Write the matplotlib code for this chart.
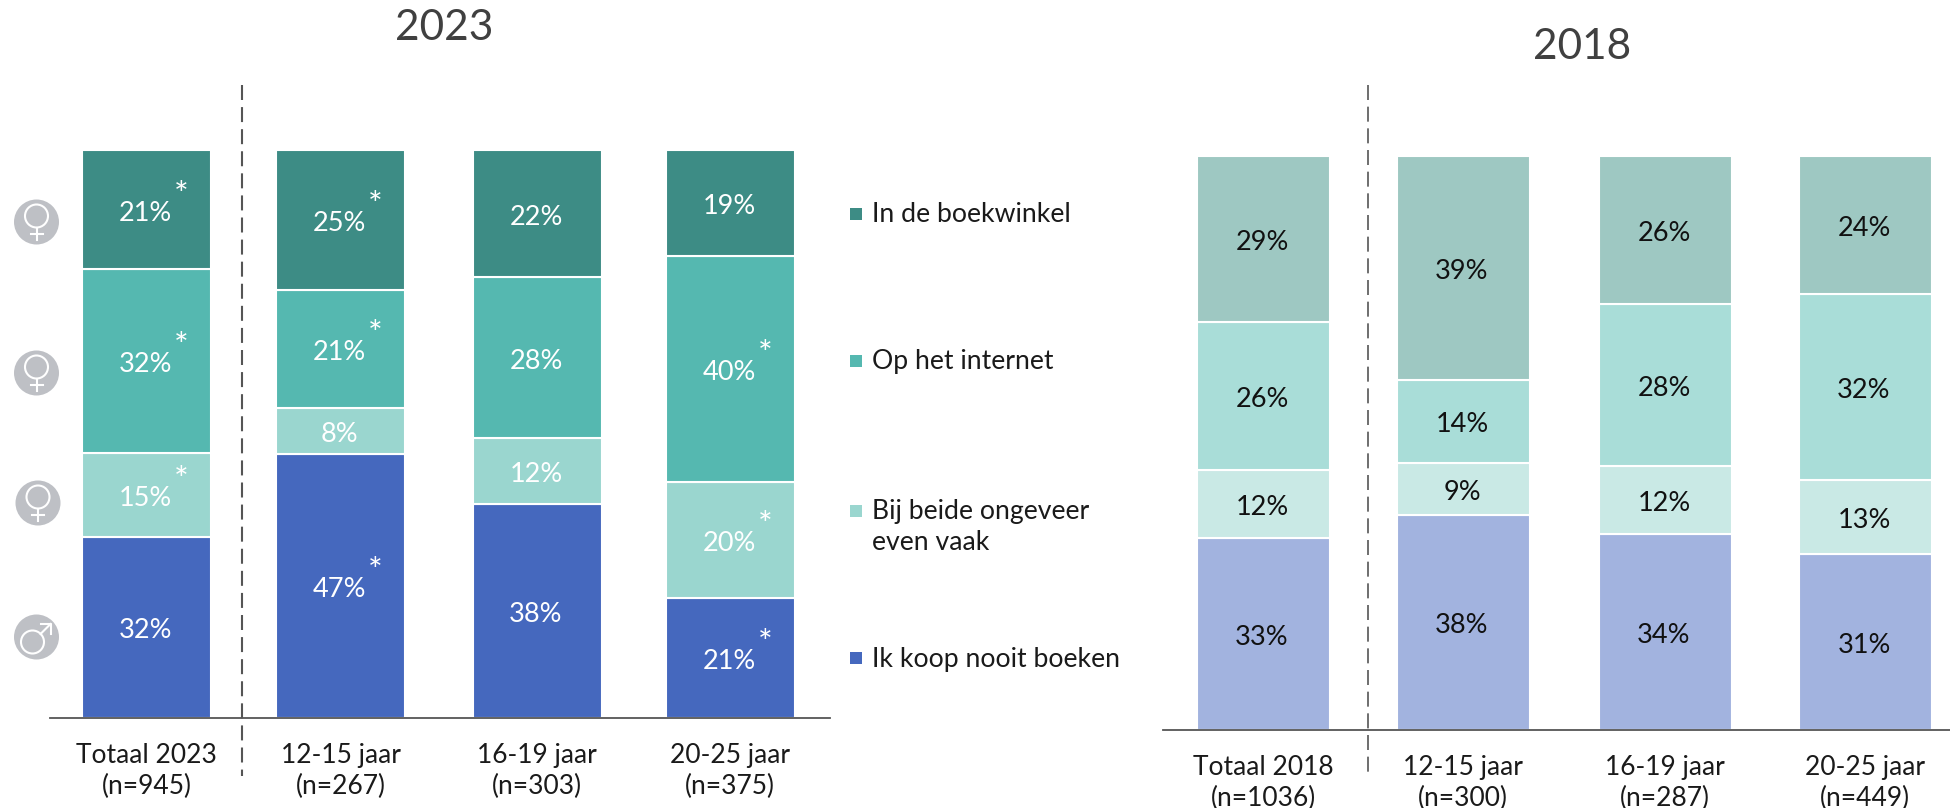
import matplotlib
matplotlib.use('Agg')
import matplotlib.pyplot as plt
from matplotlib.patches import Circle, Rectangle

plt.rcParams['font.family'] = ['Lato', 'DejaVu Sans']

series = ['Ik koop nooit boeken', 'Bij beide ongeveer\neven vaak', 'Op het internet', 'In de boekwinkel']

# values, the printed labels are these rounded
labels_2023 = ['Totaal 2023\n(n=945)', '12-15 jaar\n(n=267)', '16-19 jaar\n(n=303)', '20-25 jaar\n(n=375)']
nooit_2023 = [31.9, 46.6, 37.6, 21.2]
beide_2023 = [14.7, 8.1, 11.6, 20.4]
internet_2023 = [32.4, 20.8, 28.2, 39.8]
winkel_2023 = [21.0, 24.6, 22.4, 18.6]
# (kolom, segment) met een sterretje
stars_2023 = [(0, 1), (0, 2), (0, 3), (1, 0), (1, 2), (1, 3), (3, 0), (3, 1), (3, 2)]

labels_2018 = ['Totaal 2018\n(n=1036)', '12-15 jaar\n(n=300)', '16-19 jaar\n(n=287)', '20-25 jaar\n(n=449)']
nooit_2018 = [33.4, 37.5, 34.1, 30.6]
beide_2018 = [11.9, 9.1, 11.9, 13.0]
internet_2018 = [25.8, 14.4, 28.2, 32.3]
winkel_2018 = [28.9, 39.0, 25.8, 24.1]

colors_2023 = ['#4568BE', '#9AD6CF', '#55B8B0', '#3D8C85']
colors_2018 = ['#A2B3DF', '#C9E9E5', '#A9DDD8', '#9EC8C2']

W, H = 1950, 808
fig = plt.figure(figsize=(W / 100, H / 100), dpi=100)

# overlay in pixels for the icons, legend and separators
ov = fig.add_axes([0, 0, 1, 1], zorder=3)
ov.set_xlim(0, W)
ov.set_ylim(H, 0)
ov.axis('off')


def stacked(x0, x1, y_top, y_base, centers, width, cols, colors, labels, txt, stars=()):
    ax = fig.add_axes([x0 / W, 1 - y_base / H, (x1 - x0) / W, (y_base - y_top) / H])
    ax.set_xlim(x0, x1)
    ax.set_ylim(0, 1)
    for i, xc in enumerate(centers):
        total = sum(c[i] for c in cols)
        bottom = 0
        for s, c in enumerate(cols):
            h = c[i] / total
            ax.bar(xc, h, width, bottom=bottom, color=colors[s], edgecolor='white', linewidth=1.5)
            ax.annotate(f'{round(c[i])}%', (xc - 1, bottom + h / 2), xytext=(0, -2.5),
                        textcoords='offset points', color=txt, fontsize=19.5,
                        ha='center', va='center')
            if (i, s) in stars:
                ax.annotate('*', (xc - 1, bottom + h / 2), xytext=(26, 10), textcoords='offset points',
                            color=txt, fontsize=25, ha='center', va='center')
            bottom += h
    for side in ['top', 'left', 'right']:
        ax.spines[side].set_visible(False)
    ax.spines['bottom'].set_color('#555555')
    ax.spines['bottom'].set_linewidth(1.3)
    ax.set_yticks([])
    ax.set_xticks(centers)
    ax.set_xticklabels(labels, fontsize=19, color='#1a1a1a', linespacing=1.27)
    ax.tick_params(axis='x', length=0, pad=18)
    return ax


stacked(50, 830, 150, 718, [146.5, 340.5, 537, 730], 129,
        [nooit_2023, beide_2023, internet_2023, winkel_2023], colors_2023,
        labels_2023, 'white', stars_2023)
stacked(1163, 1950, 156, 730, [1263, 1463, 1665, 1865], 133,
        [nooit_2018, beide_2018, internet_2018, winkel_2018], colors_2018,
        labels_2018, '#111111')

ov.text(444, 28, '2023', fontsize=30.5, color='#404040', ha='center', va='center')
ov.text(1582, 47, '2018', fontsize=30.5, color='#404040', ha='center', va='center')

# dashed separators
ov.plot([242, 242], [85, 776], color='#555555', lw=1.5, dashes=(7.2, 3.4))
ov.plot([1368, 1368], [85, 777], color='#555555', lw=1.2, dashes=(9, 4))

# legend
leg_y = [215, 362, 512, 659]
for name, col, y in zip(series[::-1], colors_2023[::-1], leg_y):
    ov.add_patch(Rectangle((850, y - 7), 12, 12, color=col, lw=0))
    if '\n' in name:
        ov.text(872, y - 13, name, fontsize=19.2, color='#1a1a1a', ha='left', va='top', linespacing=1.3)
    else:
        ov.text(872, y, name, fontsize=19.2, color='#1a1a1a', ha='left', va='center')


# gender icons
def icon(x, y, male=False):
    ov.add_patch(Circle((x, y), 22.5, color='#BEC0C5', lw=0))
    if male:
        ov.add_patch(Circle((x - 4, y + 5), 11.5, fc='none', ec='white', lw=1.5))
        ov.plot([x + 4, x + 14], [y - 3, y - 13], color='white', lw=1.5)
        ov.plot([x + 4, x + 14, x + 14], [y - 13, y - 13, y - 3], color='white', lw=1.5)
    else:
        ov.add_patch(Circle((x, y - 6), 11.5, fc='none', ec='white', lw=1.5))
        ov.plot([x, x], [y + 6, y + 18], color='white', lw=1.5)
        ov.plot([x - 6, x + 6], [y + 12, y + 12], color='white', lw=1.5)


icon(36.5, 222)
icon(36.5, 373)
icon(38, 503)
icon(36.5, 637, male=True)

fig.savefig('out.png', dpi=100)
